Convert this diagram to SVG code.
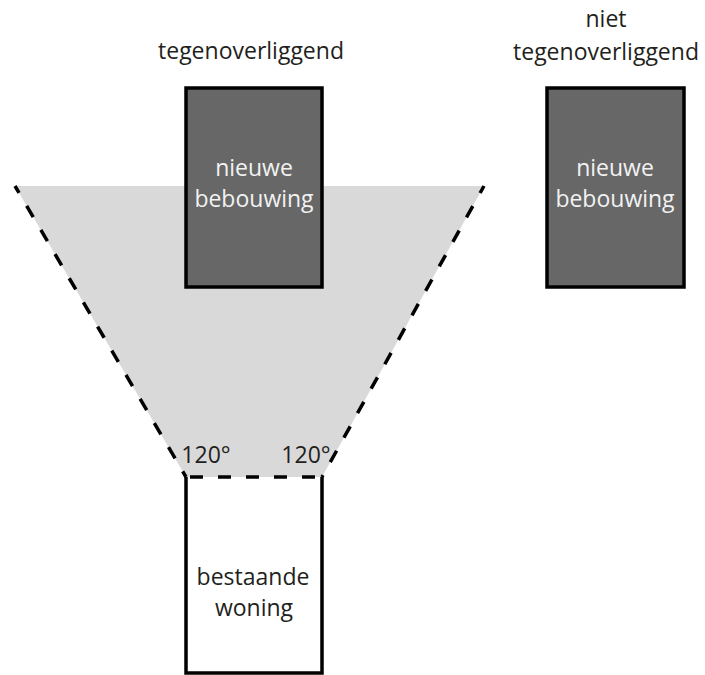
<svg xmlns="http://www.w3.org/2000/svg" width="705" height="675" viewBox="0 0 705 675">
<style>
text{font-family:"Open Sans","Liberation Sans",sans-serif;font-size:23px;text-anchor:middle}
.lbl{fill:#231f20}
.light{fill:#f2f2f2}
.dark{fill:#676767;stroke:#000;stroke-width:3.5}
.dash{fill:none;stroke:#000;stroke-width:3.5;stroke-dasharray:13 15}
.wall{fill:none;stroke:#000;stroke-width:3.5}
</style>
<rect width="705" height="675" fill="#fff"/>
<g id="zichtveld">
<polygon points="15,186 484,186 322,477 186,477" fill="#d9d9d9"/>
</g>
<g id="connectors">
<line class="dash" x1="15" y1="186" x2="186" y2="477" stroke-dashoffset="5"/>
<line class="dash" x1="484" y1="186" x2="322" y2="477" stroke-dashoffset="5"/>
<line class="dash" x1="186" y1="477" x2="322" y2="477" stroke-dasharray="12 15" stroke-dashoffset="-4"/>
</g>
<g id="hoek-links"><text class="lbl" x="206" y="463" font-size="24">120°</text></g>
<g id="hoek-rechts"><text class="lbl" x="306" y="463" font-size="24">120°</text></g>
<g id="kop-tegenoverliggend"><text class="lbl" x="251" y="59">tegenoverliggend</text></g>
<g id="kop-niet-tegenoverliggend">
<text class="lbl" x="606" y="27">niet</text>
<text class="lbl" x="606" y="60">tegenoverliggend</text>
</g>
<g id="nieuwe-bebouwing-1">
<rect class="dark" x="186" y="88" width="136" height="199"/>
<text class="light" x="254" y="176">nieuwe</text>
<text class="light" x="254" y="207">bebouwing</text>
</g>
<g id="nieuwe-bebouwing-2">
<rect class="dark" x="547" y="88" width="137" height="199"/>
<text class="light" x="615" y="176">nieuwe</text>
<text class="light" x="615" y="207">bebouwing</text>
</g>
<g id="bestaande-woning">
<path class="wall" d="M186,477 V673 H322 V477"/>
<text class="lbl" x="253" y="585">bestaande</text>
<text class="lbl" x="254" y="616">woning</text>
</g>
</svg>
